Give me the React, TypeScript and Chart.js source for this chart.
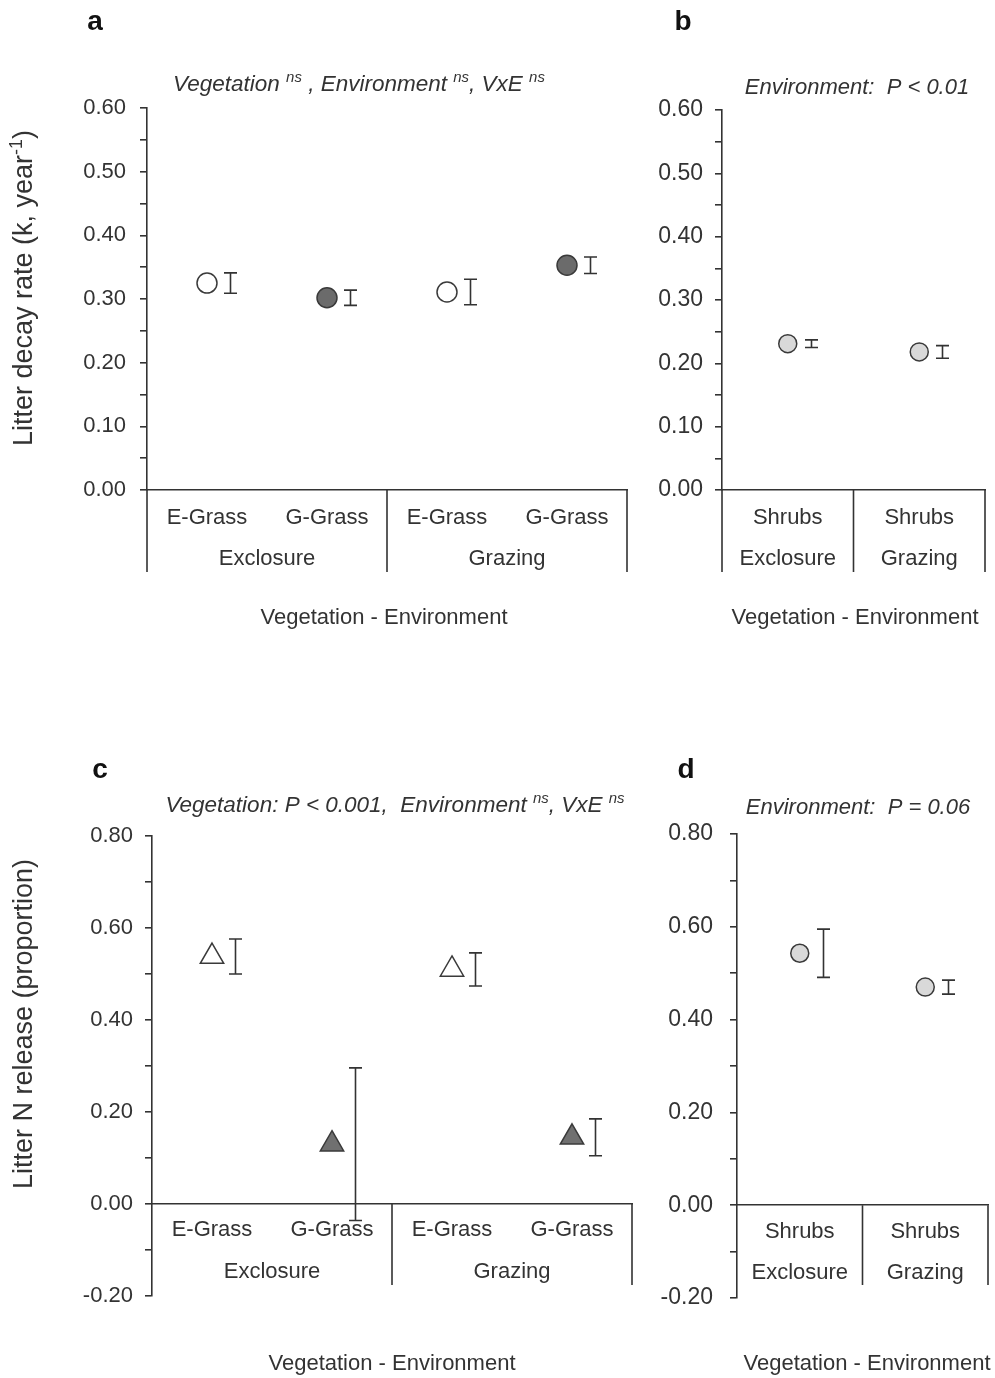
import React, { useEffect, useRef } from 'react';
import { Chart, registerables } from 'chart.js';

Chart.register(...registerables);

const FONT = '"Liberation Sans", Arial, sans-serif';
const INK = '#333333';

// ---------------- data ----------------
const grassCategories = ['E-Grass', 'G-Grass', 'E-Grass', 'G-Grass'];
const grassGroups = ['Exclosure', 'Grazing'];
const shrubCategories = ['Shrubs', 'Shrubs'];
const shrubGroups = ['Exclosure', 'Grazing'];

const decayGrassMean = [0.325, 0.302, 0.311, 0.353];
const decayGrassSE = [0.016, 0.012, 0.02, 0.013];
const decayShrubMean = [0.231, 0.218];
const decayShrubSE = [0.006, 0.01];
const nReleaseGrassMean = [0.538, 0.13, 0.51, 0.145];
const nReleaseGrassSE = [0.038, 0.166, 0.036, 0.04];
const nReleaseShrubMean = [0.543, 0.47];
const nReleaseShrubSE = [0.052, 0.015];

const decayTickLabels = ['0.00', '0.10', '0.20', '0.30', '0.40', '0.50', '0.60'];
const nReleaseTickLabels = ['-0.20', '0.00', '0.20', '0.40', '0.60', '0.80'];

type Seg = { t: string; sup?: boolean };
const titleA: Seg[] = [
  { t: 'Vegetation ' }, { t: 'ns', sup: true }, { t: ' , Environment ' }, { t: 'ns', sup: true },
  { t: ', VxE ' }, { t: 'ns', sup: true },
];
const titleB: Seg[] = [{ t: 'Environment:  P < 0.01' }];
const titleC: Seg[] = [
  { t: 'Vegetation: P < 0.001,  Environment ' }, { t: 'ns', sup: true }, { t: ', VxE ' }, { t: 'ns', sup: true },
];
const titleD: Seg[] = [{ t: 'Environment:  P = 0.06' }];
const yTitleDecay: Seg[] = [{ t: 'Litter decay rate (k, year' }, { t: '-1', sup: true }, { t: ')' }];
const yTitleN: Seg[] = [{ t: 'Litter N release (proportion)' }];
const xTitle = 'Vegetation - Environment';

// ---------------- helpers ----------------
function drawRich(ctx: CanvasRenderingContext2D, segs: Seg[], cx: number, cy: number, size: number, italic: boolean, rotate: boolean) {
  const pre = italic ? 'italic ' : '';
  const base = `${pre}${size}px ${FONT}`;
  const sup = `${pre}${Math.round(size * 0.66)}px ${FONT}`;
  ctx.save();
  ctx.translate(cx, cy);
  if (rotate) ctx.rotate(-Math.PI / 2);
  let total = 0;
  const widths = segs.map((s) => {
    ctx.font = s.sup ? sup : base;
    const w = ctx.measureText(s.t).width;
    total += w;
    return w;
  });
  let x = -total / 2;
  ctx.textBaseline = 'middle';
  ctx.textAlign = 'left';
  ctx.fillStyle = INK;
  segs.forEach((s, i) => {
    ctx.font = s.sup ? sup : base;
    ctx.fillText(s.t, x, s.sup ? -size * 0.3 : 0);
    x += widths[i];
  });
  ctx.restore();
}

type PanelCfg = {
  id: string;
  left: number; top: number; width: number; height: number;
  chartLeft: number; chartTop: number; chartRight: number; chartBottom: number;
  zeroAxis: boolean;
  yMin: number; yMax: number; yStep: number; tickLabels: string[];
  tickFont: number; tickPad: number;
  categories: string[]; groups: string[];
  means: number[]; ses: number[];
  pointStyle: string; radius: number; fills: string[];
  letter: string; letterX: number; letterY: number;
  title: Seg[]; titleX: number; titleY: number; titleSize: number;
  yTitle: Seg[] | null; yTitleX: number; yTitleY: number;
  xTitleX: number; xTitleY: number;
  catLabelY: number; groupLabelY: number; boxBottom: number;
};

// canvases are made wider than their panel so the layout's right padding
// always dominates the axis' own label padding (canvases are transparent)
const panels: PanelCfg[] = [
  {
    id: 'a', left: 0, top: 0, width: 680, height: 650,
    chartLeft: 147, chartTop: 108, chartRight: 627, chartBottom: 490, zeroAxis: false,
    yMin: 0, yMax: 0.6, yStep: 0.05, tickLabels: decayTickLabels, tickFont: 22, tickPad: 14,
    categories: grassCategories, groups: grassGroups,
    means: decayGrassMean, ses: decayGrassSE,
    pointStyle: 'circle', radius: 10, fills: ['#ffffff', '#6b6b6b', '#ffffff', '#6b6b6b'],
    letter: 'a', letterX: 95, letterY: 22,
    title: titleA, titleX: 359, titleY: 85, titleSize: 22.5,
    yTitle: yTitleDecay, yTitleX: 25, yTitleY: 288,
    xTitleX: 384, xTitleY: 618, catLabelY: 518, groupLabelY: 559, boxBottom: 572,
  },
  {
    id: 'b', left: 640, top: 0, width: 395, height: 650,
    chartLeft: 82, chartTop: 110, chartRight: 345, chartBottom: 490, zeroAxis: false,
    yMin: 0, yMax: 0.6, yStep: 0.05, tickLabels: decayTickLabels, tickFont: 23, tickPad: 12,
    categories: shrubCategories, groups: shrubGroups,
    means: decayShrubMean, ses: decayShrubSE,
    pointStyle: 'circle', radius: 9, fills: ['#d9d9d9', '#d9d9d9'],
    letter: 'b', letterX: 43, letterY: 22,
    title: titleB, titleX: 217, titleY: 88, titleSize: 22,
    yTitle: null, yTitleX: 0, yTitleY: 0,
    xTitleX: 215, xTitleY: 618, catLabelY: 518, groupLabelY: 559, boxBottom: 572,
  },
  {
    id: 'c', left: 0, top: 700, width: 680, height: 678,
    chartLeft: 152, chartTop: 136, chartRight: 632, chartBottom: 596, zeroAxis: true,
    yMin: -0.2, yMax: 0.8, yStep: 0.1, tickLabels: nReleaseTickLabels, tickFont: 22, tickPad: 12,
    categories: grassCategories, groups: grassGroups,
    means: nReleaseGrassMean, ses: nReleaseGrassSE,
    pointStyle: 'triangle', radius: 13.5, fills: ['#ffffff', '#707070', '#ffffff', '#707070'],
    letter: 'c', letterX: 100, letterY: 70,
    title: titleC, titleX: 395, titleY: 106, titleSize: 22.5,
    yTitle: yTitleN, yTitleX: 25, yTitleY: 324,
    xTitleX: 392, xTitleY: 664, catLabelY: 530, groupLabelY: 572, boxBottom: 585,
  },
  {
    id: 'd', left: 640, top: 700, width: 395, height: 678,
    chartLeft: 97, chartTop: 134, chartRight: 348, chartBottom: 598, zeroAxis: true,
    yMin: -0.2, yMax: 0.8, yStep: 0.1, tickLabels: nReleaseTickLabels, tickFont: 23, tickPad: 17,
    categories: shrubCategories, groups: shrubGroups,
    means: nReleaseShrubMean, ses: nReleaseShrubSE,
    pointStyle: 'circle', radius: 9, fills: ['#d9d9d9', '#d9d9d9'],
    letter: 'd', letterX: 46, letterY: 70,
    title: titleD, titleX: 218, titleY: 108, titleSize: 22,
    yTitle: null, yTitleX: 0, yTitleY: 0,
    xTitleX: 227, xTitleY: 664, catLabelY: 532, groupLabelY: 573, boxBottom: 585,
  },
];

const ERR_OFFSET = 23;
const ERR_CAP = 13;

function Panel({ cfg }: { cfg: PanelCfg }) {
  const ref = useRef<HTMLCanvasElement | null>(null);
  useEffect(() => {
    if (!ref.current) return;
    const labelSize = 22;

    const errorBars = {
      id: 'errorBars' + cfg.id,
      afterDatasetsDraw(chart: any) {
        const ctx = chart.ctx;
        const ys = chart.scales.y;
        const meta = chart.getDatasetMeta(0);
        ctx.save();
        ctx.strokeStyle = INK;
        ctx.lineWidth = 1.6;
        meta.data.forEach((pt: any, i: number) => {
          const m = cfg.means[i];
          const e = cfg.ses[i];
          const x = Math.round(pt.x + ERR_OFFSET) + 0.5;
          const yt = ys.getPixelForValue(m + e);
          const yb = ys.getPixelForValue(m - e);
          ctx.beginPath();
          ctx.moveTo(x, yt); ctx.lineTo(x, yb);
          ctx.moveTo(x - ERR_CAP / 2, yt); ctx.lineTo(x + ERR_CAP / 2, yt);
          ctx.moveTo(x - ERR_CAP / 2, yb); ctx.lineTo(x + ERR_CAP / 2, yb);
          ctx.stroke();
        });
        ctx.restore();
      },
    };

    const decor = {
      id: 'decor' + cfg.id,
      afterDraw(chart: any) {
        const ctx = chart.ctx;
        const xs = chart.scales.x;
        const ys = chart.scales.y;
        const area = chart.chartArea;
        const axisY = cfg.zeroAxis ? ys.getPixelForValue(0) : area.bottom;
        const n = cfg.categories.length;
        const perGroup = n / cfg.groups.length;
        const step = n > 1 ? xs.getPixelForValue(1) - xs.getPixelForValue(0) : area.right - area.left;

        // box lines under the x axis
        ctx.save();
        ctx.strokeStyle = INK;
        ctx.lineWidth = 1.6;
        ctx.beginPath();
        if (!cfg.zeroAxis) {
          ctx.moveTo(area.left, axisY); ctx.lineTo(area.left, cfg.boxBottom);
        }
        for (let g = 1; g < cfg.groups.length; g++) {
          const bx = xs.getPixelForValue(g * perGroup) - step / 2;
          ctx.moveTo(bx, axisY); ctx.lineTo(bx, cfg.boxBottom);
        }
        ctx.moveTo(area.right, axisY); ctx.lineTo(area.right, cfg.boxBottom);
        ctx.stroke();
        ctx.restore();

        // group labels
        ctx.save();
        ctx.fillStyle = INK;
        ctx.font = `${labelSize}px ${FONT}`;
        ctx.textAlign = 'center';
        ctx.textBaseline = 'middle';
        cfg.groups.forEach((g, gi) => {
          const a = xs.getPixelForValue(gi * perGroup);
          const b = xs.getPixelForValue(gi * perGroup + perGroup - 1);
          ctx.fillText(g, (a + b) / 2, cfg.groupLabelY);
        });
        // x title
        ctx.fillText(xTitle, cfg.xTitleX, cfg.xTitleY);
        // panel letter
        ctx.font = `bold 28px ${FONT}`;
        ctx.fillStyle = '#111111';
        ctx.fillText(cfg.letter, cfg.letterX, cfg.letterY);
        ctx.restore();

        drawRich(ctx, cfg.title, cfg.titleX, cfg.titleY, cfg.titleSize, true, false);
        if (cfg.yTitle) drawRich(ctx, cfg.yTitle, cfg.yTitleX, cfg.yTitleY, 27, false, true);
      },
    };

    const zeroPixel = cfg.chartTop + (cfg.chartBottom - cfg.chartTop) * (cfg.yMax / (cfg.yMax - cfg.yMin));
    const axisPix = cfg.zeroAxis ? zeroPixel : cfg.chartBottom;

    const chart = new Chart(ref.current, {
      type: 'line',
      data: {
        labels: cfg.categories,
        datasets: [
          {
            data: cfg.means,
            showLine: false,
            pointStyle: cfg.pointStyle as any,
            pointRadius: cfg.radius,
            pointBackgroundColor: cfg.fills,
            pointBorderColor: '#3a3a3a',
            pointBorderWidth: 1.5,
          },
        ],
      },
      options: {
        responsive: false,
        animation: false,
        devicePixelRatio: 1,
        layout: {
          padding: {
            left: 0,
            top: cfg.chartTop,
            right: cfg.width - cfg.chartRight,
            bottom: cfg.zeroAxis ? cfg.height - cfg.chartBottom : 0,
          },
        },
        plugins: { legend: { display: false }, tooltip: { enabled: false }, title: { display: false } },
        scales: {
          x: {
            type: 'category',
            offset: true,
            position: cfg.zeroAxis ? ({ y: 0 } as any) : 'bottom',
            grid: { display: false, drawTicks: false },
            border: { display: true, color: INK, width: 1.6 },
            ticks: {
              color: INK,
              font: { family: FONT, size: labelSize },
              padding: cfg.catLabelY - axisPix - labelSize * 0.6,
              maxRotation: 0,
              autoSkip: false,
            },
            afterFit: (s: any) => {
              if (!cfg.zeroAxis) s.height = cfg.height - cfg.chartBottom;
              s.paddingLeft = 0;
              s.paddingRight = 0;
            },
          },
          y: {
            type: 'linear',
            min: cfg.yMin,
            max: cfg.yMax,
            grid: { drawOnChartArea: false, drawTicks: true, tickLength: 7, color: INK, lineWidth: 1.6 },
            border: { display: true, color: INK, width: 1.6 },
            ticks: {
              stepSize: cfg.yStep,
              color: INK,
              font: { family: FONT, size: cfg.tickFont },
              padding: cfg.tickPad,
              autoSkip: false,
              callback: (v: any) => {
                const s = Number(v).toFixed(2);
                const norm = s === '-0.00' ? '0.00' : s;
                return cfg.tickLabels.includes(norm) ? norm : '';
              },
            },
            afterFit: (s: any) => {
              s.width = cfg.chartLeft;
              s.paddingTop = 0;
              s.paddingBottom = 0;
            },
          },
        },
      },
      plugins: [errorBars, decor],
    });
    return () => chart.destroy();
  }, [cfg]);

  return (
    <canvas
      ref={ref}
      width={cfg.width}
      height={cfg.height}
      style={{ position: 'absolute', left: cfg.left, top: cfg.top, width: cfg.width, height: cfg.height }}
    />
  );
}

export default function App() {
  return (
    <div style={{ position: 'absolute', left: 0, top: 0, width: 995, height: 1378, background: '#ffffff', overflow: 'hidden' }}>
      {panels.map((p) => (
        <Panel key={p.id} cfg={p} />
      ))}
    </div>
  );
}
